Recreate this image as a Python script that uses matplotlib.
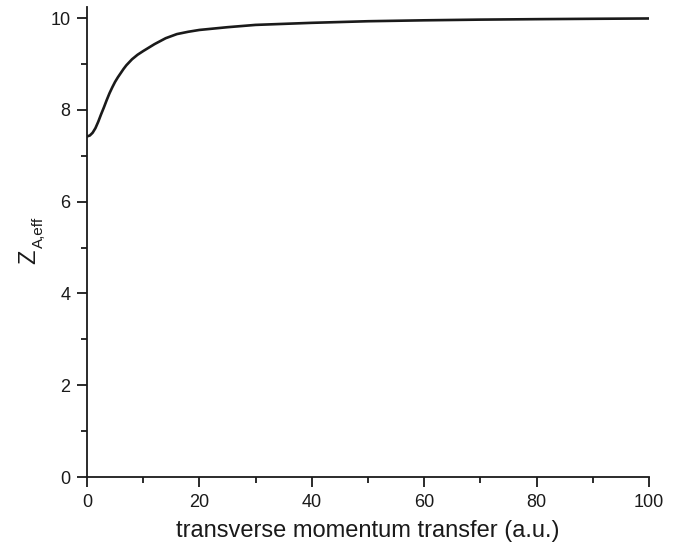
import matplotlib
matplotlib.use("Agg")
import matplotlib.pyplot as plt
from matplotlib.ticker import MultipleLocator

plt.rcParams['font.family'] = ['Liberation Sans', 'DejaVu Sans']

# effective charge vs transverse momentum transfer
q = [0, 0.5, 1, 1.5, 2, 2.5, 3, 3.5, 4, 4.5, 5, 5.5, 6, 6.5, 7, 8, 9, 10,
     12, 14, 16, 18, 20, 25, 30, 40, 50, 60, 70, 80, 90, 100]
z_eff = [7.42, 7.44, 7.50, 7.60, 7.74, 7.90, 8.05, 8.21, 8.36, 8.49, 8.61,
         8.71, 8.80, 8.89, 8.97, 9.10, 9.20, 9.28, 9.43, 9.56, 9.65, 9.70,
         9.74, 9.80, 9.85, 9.895, 9.93, 9.95, 9.965, 9.975, 9.983, 9.99]

x_label = "transverse momentum transfer (a.u.)"
y_main = "Z"
y_sub = "A,eff"

W, H = 690, 554
ink = '#1a1a1a'

fig = plt.figure(figsize=(W / 100, H / 100), dpi=100)
ax = fig.add_axes([87 / W, 1 - 477 / H, (649 - 87) / W, (477 - 7) / H])

ax.plot(q, z_eff, color=ink, lw=1.9, solid_joinstyle='round')

ax.set_xlim(0, 100)
ax.set_ylim(0, 10.24)
ax.xaxis.set_major_locator(MultipleLocator(20))
ax.xaxis.set_minor_locator(MultipleLocator(10))
ax.yaxis.set_major_locator(MultipleLocator(2))
ax.yaxis.set_minor_locator(MultipleLocator(1))

for side in ('top', 'right'):
    ax.spines[side].set_visible(False)
for side in ('left', 'bottom'):
    ax.spines[side].set_linewidth(1.3)
    ax.spines[side].set_color(ink)

ax.tick_params(which='major', direction='out', length=7, width=1.3,
               labelsize=13, colors=ink, pad=5)
ax.tick_params(which='minor', direction='out', length=4, width=1.3,
               colors=ink)

ax.set_xlabel(x_label, fontsize=17, color=ink, labelpad=7)

# y-axis label: Z with a small subscript, both rotated
fig.text(35 / W, 1 - 256.5 / H, y_main, rotation=90, rotation_mode='anchor',
         ha='center', va='baseline', fontsize=17, color=ink)
fig.text(43 / W, 1 - 232.5 / H, y_sub, rotation=90, rotation_mode='anchor',
         ha='center', va='baseline', fontsize=11, color=ink)

fig.savefig("out.png", dpi=100)
